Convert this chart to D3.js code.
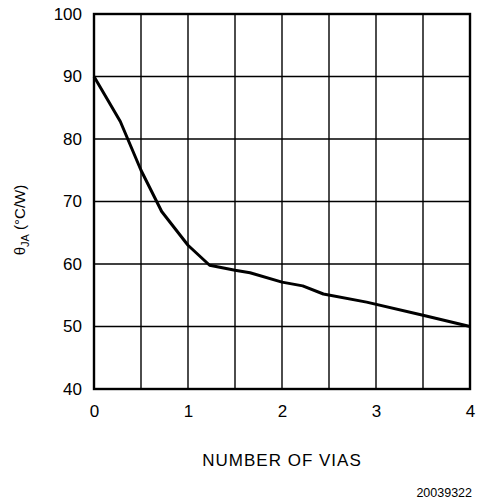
<!DOCTYPE html>
<html><head><meta charset="utf-8">
<script src="https://cdn.jsdelivr.net/npm/d3@7"></script>
<style>body{margin:0;background:#fff}svg{display:block}text{font-family:"Liberation Sans",Arial,sans-serif;fill:#000}</style>
</head><body>
<script>
const vias = [0, 0.28, 0.5, 0.72, 1.0, 1.23, 1.5, 1.66, 2.0, 2.22, 2.44, 2.9, 3.5, 4.0];
const thetaJA = [90, 82.8, 75, 68.4, 63, 59.8, 59, 58.6, 57.1, 56.5, 55.2, 53.9, 51.8, 50];
const xTicks = [0, 1, 2, 3, 4];
const yTicks = [40, 50, 60, 70, 80, 90, 100];
const xGrid = [0.5, 1, 1.5, 2, 2.5, 3, 3.5];

const W = 482, H = 503;
const svg = d3.select("body").append("svg").attr("width", W).attr("height", H);
const x = d3.scaleLinear().domain([0, 4]).range([94, 470]);
const y = d3.scaleLinear().domain([40, 100]).range([389, 14]);

// grid
svg.append("g").selectAll("line").data(xGrid).join("line")
  .attr("x1", d => x(d)).attr("x2", d => x(d)).attr("y1", y(100)).attr("y2", y(40))
  .attr("stroke", "#000").attr("stroke-width", 1.4);
svg.append("g").selectAll("line").data(yTicks.slice(1, -1)).join("line")
  .attr("x1", x(0)).attr("x2", x(4)).attr("y1", d => y(d)).attr("y2", d => y(d))
  .attr("stroke", "#000").attr("stroke-width", 1.4);
// frame
svg.append("rect").attr("x", x(0)).attr("y", y(100)).attr("width", x(4) - x(0)).attr("height", y(40) - y(100))
  .attr("fill", "none").attr("stroke", "#000").attr("stroke-width", 2.4);

// axes labels via d3 axes
const ya = svg.append("g").attr("transform", `translate(${x(0)},0)`)
  .call(d3.axisLeft(y).tickValues(yTicks).tickSize(0).tickPadding(12));
ya.select(".domain").remove();
ya.selectAll("text").attr("font-size", 17).attr("font-family", "Liberation Sans, Arial, sans-serif").attr("fill", "#000");
const xa = svg.append("g").attr("transform", `translate(0,${y(40)})`)
  .call(d3.axisBottom(x).tickValues(xTicks).tickSize(0).tickPadding(16).tickFormat(d3.format("d")));
xa.select(".domain").remove();
xa.selectAll("text").attr("font-size", 17).attr("font-family", "Liberation Sans, Arial, sans-serif").attr("fill", "#000");

// line
svg.append("path").datum(vias.map((v, i) => [v, thetaJA[i]]))
  .attr("d", d3.line().x(d => x(d[0])).y(d => y(d[1])))
  .attr("fill", "none").attr("stroke", "#000").attr("stroke-width", 3).attr("stroke-linejoin", "round");

// titles
svg.append("text").attr("x", 282).attr("y", 466).attr("text-anchor", "middle").attr("font-size", 17)
  .attr("letter-spacing", 1).text("NUMBER OF VIAS");
const yt = svg.append("text").attr("transform", "translate(25,220) rotate(-90)").attr("text-anchor", "middle").attr("font-size", 15);
yt.append("tspan").text("θ");
yt.append("tspan").attr("font-size", 11).attr("dy", 4).text("JA");
yt.append("tspan").attr("dy", -4).text(" (°C/W)");
svg.append("text").attr("x", 472).attr("y", 497).attr("text-anchor", "end").attr("font-size", 12.5).text("20039322");
</script>
</body></html>
